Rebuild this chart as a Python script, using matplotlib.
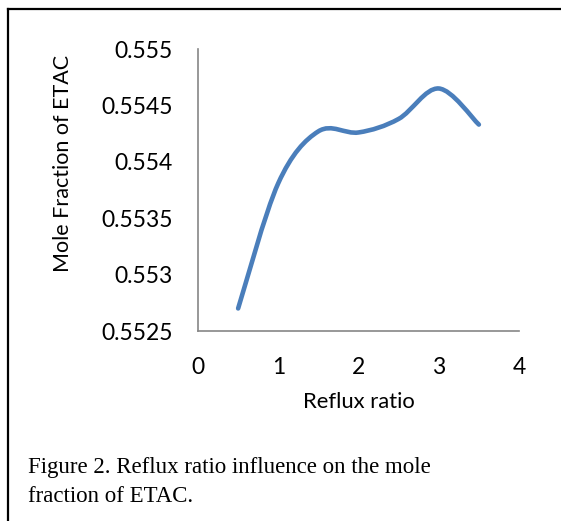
import numpy as np
import matplotlib
matplotlib.use('Agg')
import matplotlib.pyplot as plt
from matplotlib.path import Path
from matplotlib.patches import PathPatch
from matplotlib.lines import Line2D

# data
reflux_ratio = [0.5, 1.0, 1.5, 2.0, 2.5, 3.0, 3.5]
etac_frac = [0.55270, 0.55381, 0.55427, 0.55426, 0.55438, 0.55465, 0.55433]
x_ticks = [0, 1, 2, 3, 4]
y_ticks = [0.5525, 0.553, 0.5535, 0.554, 0.5545, 0.555]
y_ticklabels = ['0.5525', '0.553', '0.5535', '0.554', '0.5545', '0.555']

W, H = 561, 521
fig = plt.figure(figsize=(W/100, H/100), dpi=100)
ax = fig.add_axes([198/W, 1-331/H, (519-198)/W, (331-49)/H])

# smoothed line like the spreadsheet "smoothed lines" option (bezier through points)
pts = np.column_stack([reflux_ratio, etac_frac])
verts = [pts[0]]
codes = [Path.MOVETO]
for i in range(len(pts)-1):
    p0 = pts[i-1] if i > 0 else pts[i]
    p1 = pts[i]
    p2 = pts[i+1]
    p3 = pts[i+2] if i+2 < len(pts) else pts[i+1]
    c1 = p1 + (p2 - p0)/6.0
    c2 = p2 - (p3 - p1)/6.0
    verts += [c1, c2, p2]
    codes += [Path.CURVE4]*3
ax.add_patch(PathPatch(Path(verts, codes), fill=False, edgecolor='#4a7ebb',
                       lw=3.3, capstyle='round', joinstyle='round'))

ax.set_xlim(0, 4)
ax.set_ylim(0.5525, 0.555)
ax.set_xticks(x_ticks)
ax.set_yticks(y_ticks)
ax.set_yticklabels(y_ticklabels)
for s in ['top', 'right']:
    ax.spines[s].set_visible(False)
for s in ['left', 'bottom']:
    ax.spines[s].set_color('#868686')
    ax.spines[s].set_linewidth(1.2)
ax.tick_params(length=0, labelsize=16.5, labelcolor='black')
ax.tick_params(axis='y', pad=18)
ax.tick_params(axis='x', pad=19)
for lab in ax.get_xticklabels() + ax.get_yticklabels():
    lab.set_family('Lato')

ax.set_xlabel('Reflux ratio', fontsize=15.8, family='Lato', labelpad=10)
ax.set_ylabel('Mole Fraction of ETAC', fontsize=15.5, family='Lato')
ax.yaxis.set_label_coords((73-198)/321, (331-163)/282)

# frame around the figure + caption
fig.add_artist(Line2D([8/W, 8/W], [0, 1-9/H], color='black', lw=1.6))
fig.add_artist(Line2D([8/W, 1], [1-9/H, 1-9/H], color='black', lw=1.6))
fig.text(28/W, 1-473/H, 'Figure 2. Reflux ratio influence on the mole',
         fontsize=16.5, family='Liberation Serif', va='baseline')
fig.text(28/W, 1-502/H, 'fraction of ETAC.',
         fontsize=16.5, family='Liberation Serif', va='baseline')

plt.savefig('out.png', dpi=100)
